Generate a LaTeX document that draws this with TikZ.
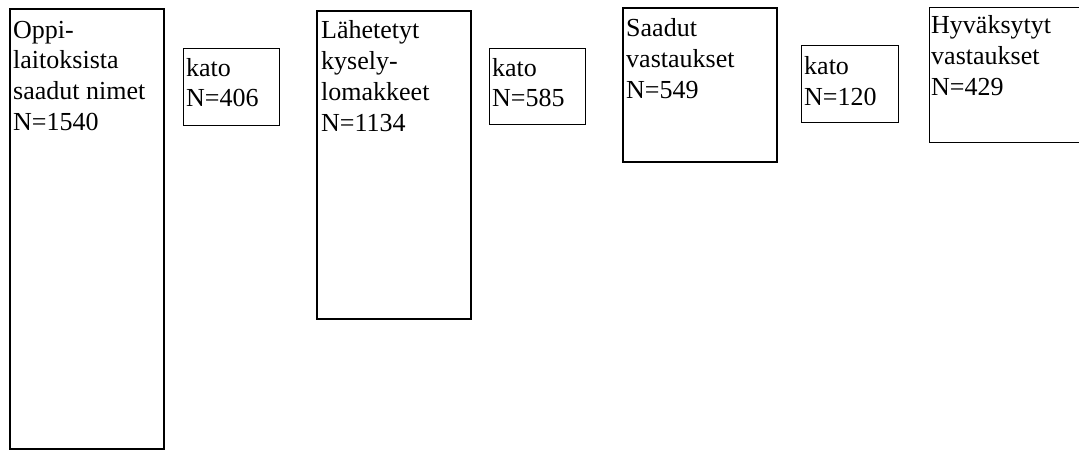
\documentclass[tikz,border=0pt]{standalone}
\usepackage{fontspec}
\setmainfont{Liberation Serif}
\tikzset{
  bigbox/.style={draw=black, line width=1.6pt, rectangle, inner sep=0pt, outer sep=0pt},
  katobox/.style={draw=black, line width=1pt, rectangle, inner sep=0pt, outer sep=0pt},
  lbl/.style={anchor=base west, align=left, inner sep=0pt, font=\fontsize{26}{30.8}\selectfont}
}
\begin{document}
\begin{tikzpicture}[x=1pt,y=-1pt]
\useasboundingbox (0,0) rectangle (1079,450);
% boxes
\node[bigbox, minimum width=154pt, minimum height=440pt] (b1) at (87,229) {};
\node[katobox, minimum width=96pt, minimum height=77pt] (k1) at (231,86.5) {};
\node[bigbox, minimum width=154pt, minimum height=308pt] (b2) at (394,165) {};
\node[katobox, minimum width=96pt, minimum height=76pt] (k2) at (537,86) {};
\node[bigbox, minimum width=154pt, minimum height=154pt] (b3) at (700,85) {};
\node[katobox, minimum width=97pt, minimum height=77pt] (k3) at (849.5,83.5) {};
\node[minimum width=160pt, minimum height=135pt, inner sep=0pt, outer sep=0pt] (b4) at (1009,74.5) {};
\draw[line width=1pt] (b4.north east) -- (b4.north west) -- (b4.south west) -- (b4.south east);
% texts (anchored at the baseline of the last line)
\node[lbl] (t1) at (13,130.4) {Oppi-\\laitoksista\\saadut nimet\\N=1540};
\node[lbl] (tk1) at (186,106.8) {kato\\N=406};
\node[lbl] (t2) at (321,131) {Lähetetyt\\kysely-\\lomakkeet\\N=1134};
\node[lbl] (tk2) at (492,106.8) {kato\\N=585};
\node[lbl] (t3) at (626,98.4) {Saadut\\vastaukset\\N=549};
\node[lbl] (tk3) at (804,105) {kato\\N=120};
\node[lbl] (t4) at (931,95.4) {Hyväksytyt\\vastaukset\\N=429};
\end{tikzpicture}
\end{document}
